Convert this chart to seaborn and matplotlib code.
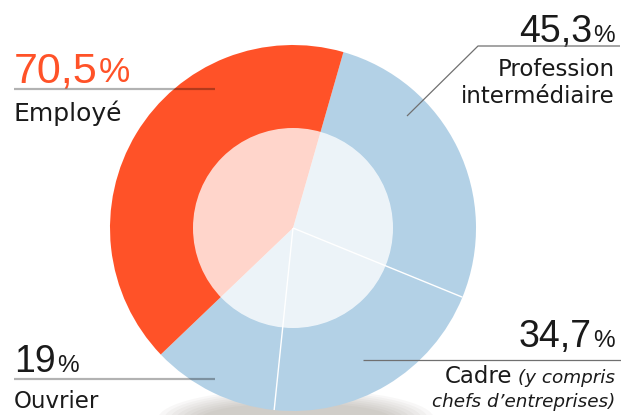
import numpy as np
import matplotlib
matplotlib.use("Agg")
import matplotlib.pyplot as plt
from matplotlib.patches import Circle, Ellipse
import seaborn as sns

# share of women per socio-professional category (%)
categories = ["Profession\nintermédiaire", "Cadre", "Ouvrier", "Employé"]
values = [45.3, 34.7, 19.0, 70.5]
value_labels = ["45,3", "34,7", "19", "70,5"]
colors = ["#b3d1e6", "#b3d1e6", "#b3d1e6", "#ff5228"]

sns.set_theme(style="white")
plt.rcParams["font.family"] = ["DejaVu Sans"]
NUM_FONT = ["Liberation Sans", "DejaVu Sans"]

W, H = 621, 415
fig = plt.figure(figsize=(W / 100, H / 100), dpi=100)
ax = fig.add_axes([0, 0, 1, 1])

cx, cy, r_out, r_in = 293, 187, 183, 100

# soft shadow under the pie
for i in range(8):
    ax.add_patch(Ellipse((296, -4), 2 * (138 - i * 6), 2 * (30 - i * 2),
                         facecolor="#8c8478", edgecolor="none", alpha=0.06, zorder=0))

wedges, _ = ax.pie(values, colors=colors, startangle=74, counterclock=False,
                   center=(cx, cy), radius=r_out,
                   wedgeprops=dict(linewidth=0, edgecolor="none"))
for w in wedges:
    w.set_zorder(1)

# pale inner disc
ax.add_patch(Circle((cx, cy), r_in, facecolor="white", edgecolor="none",
                    alpha=0.76, zorder=2))

# white separators between the blue wedges
for ang in (wedges[1].theta1, wedges[1].theta2):
    a = np.deg2rad(ang)
    ax.plot([cx, cx + r_out * np.cos(a)], [cy, cy + r_out * np.sin(a)],
            color="white", lw=1.0, zorder=3, solid_capstyle="butt")

ax.set_xlim(0, W)
ax.set_ylim(0, H)
ax.set_aspect("equal")
ax.axis("off")


def Y(py):
    return H - py


big = 31
mid = 27
lab = 16.5
ink = "#1a1a1a"
grey_line = dict(color="black", alpha=0.3, lw=1.6, zorder=4, solid_capstyle="butt")
thin_line = dict(color="#707070", lw=0.9, zorder=4, solid_capstyle="butt")

# Employé (top left)
t = ax.text(14, Y(82), value_labels[3], fontsize=big, color=colors[3],
            family=NUM_FONT, ha="left", va="baseline")
ax.annotate("%", xy=(1, Y(82)), xycoords=(t, "data"), xytext=(1, 0),
            textcoords="offset points", fontsize=big * 0.82, family=NUM_FONT,
            color=colors[3], ha="left", va="baseline")
ax.plot([14, 215], [Y(89), Y(89)], **grey_line)
ax.text(14, Y(121), categories[3], fontsize=18, color=ink,
        ha="left", va="baseline")

# Ouvrier (bottom left)
t = ax.text(14, Y(372), value_labels[2], fontsize=mid, color=ink,
            family=NUM_FONT, ha="left", va="baseline")
ax.annotate("%", xy=(1, Y(372)), xycoords=(t, "data"), xytext=(1, 0),
            textcoords="offset points", fontsize=mid * 0.65, family=NUM_FONT,
            color=ink, ha="left", va="baseline")
ax.plot([14, 215], [Y(379), Y(379)], **grey_line)
ax.text(14, Y(408), categories[2], fontsize=lab, color=ink,
        ha="left", va="baseline")

# Profession intermédiaire (top right)
p = ax.text(615, Y(42), "%", fontsize=mid * 0.65, color=ink,
            family=NUM_FONT, ha="right", va="baseline")
ax.annotate(value_labels[0], xy=(0, Y(42)), xycoords=(p, "data"), xytext=(-1, 0),
            textcoords="offset points", fontsize=mid, family=NUM_FONT,
            color=ink, ha="right", va="baseline")
ax.plot([620, 478, 407], [Y(46), Y(46), Y(116)], **thin_line)
ax.text(615, Y(103), categories[0], fontsize=lab, color=ink,
        ha="right", va="baseline", linespacing=1.2)

# Cadre (bottom right)
p = ax.text(615, Y(347), "%", fontsize=mid * 0.65, color=ink,
            family=NUM_FONT, ha="right", va="baseline")
ax.annotate(value_labels[1], xy=(0, Y(347)), xycoords=(p, "data"), xytext=(-1, 0),
            textcoords="offset points", fontsize=mid, family=NUM_FONT,
            color=ink, ha="right", va="baseline")
ax.plot([363, 621], [Y(360), Y(360)], **thin_line)
it = ax.text(615, Y(383), "(y compris", fontsize=lab * 0.8, style="italic",
             color=ink, ha="right", va="baseline")
ax.annotate(categories[1], xy=(0, Y(383)), xycoords=(it, "data"),
            xytext=(-4, 0), textcoords="offset points", fontsize=lab,
            color=ink, ha="right", va="baseline")
ax.text(615, Y(407), "chefs d\u2019entreprises)", fontsize=lab * 0.8,
        style="italic", color=ink, ha="right", va="baseline")

fig.savefig("out.png", dpi=100, facecolor="white")
